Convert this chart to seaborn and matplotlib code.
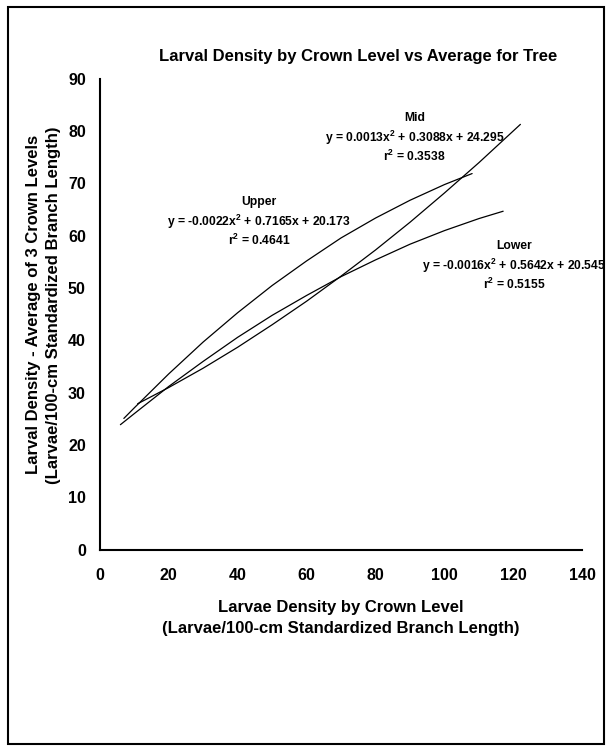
import pandas as pd
import numpy as np
import matplotlib
matplotlib.use("Agg")
import matplotlib.pyplot as plt
import seaborn as sns
from matplotlib.patches import Rectangle

# values
upper_x = [7, 10, 20, 30, 40, 50, 60, 70, 80, 90, 100, 108]
upper_y = [25.1, 27.1, 33.6, 39.7, 45.3, 50.5, 55.2, 59.6, 63.4, 66.8, 69.8, 71.9]

mid_x = [11, 20, 30, 40, 50, 60, 70, 80, 90, 100, 110, 122]
mid_y = [27.9, 31.0, 34.7, 38.7, 43.0, 47.5, 52.3, 57.3, 62.6, 68.2, 74.0, 81.3]

lower_x = [6, 10, 20, 30, 40, 50, 60, 70, 80, 90, 100, 110, 117]
lower_y = [23.9, 26.0, 31.2, 36.0, 40.6, 44.8, 48.6, 52.2, 55.4, 58.4, 61.0, 63.3, 64.7]

levels = ["Upper", "Mid", "Lower"]
equations = [
    "y = -0.0022x$^2$ + 0.7165x + 20.173",
    "y = 0.0013x$^2$ + 0.3088x + 24.295",
    "y = -0.0016x$^2$ + 0.5642x + 20.545",
]
r_squared = ["0.4641", "0.3538", "0.5155"]
x_ticks = [0, 20, 40, 60, 80, 100, 120, 140]
y_ticks = [0, 10, 20, 30, 40, 50, 60, 70, 80, 90]


def build_frame():
    parts = []
    for name, xs, ys in [("Upper", upper_x, upper_y),
                         ("Mid", mid_x, mid_y),
                         ("Lower", lower_x, lower_y)]:
        parts.append(pd.DataFrame({"x": xs, "y": ys, "level": name}))
    return pd.concat(parts, ignore_index=True)


def main():
    sns.set_style("white")
    plt.rcParams["font.family"] = ["Liberation Sans", "DejaVu Sans"]
    plt.rcParams["font.weight"] = "bold"
    plt.rcParams["mathtext.fontset"] = "custom"
    plt.rcParams["mathtext.rm"] = "Liberation Sans:bold"
    # seaborn's style greys the text; the reference is plain black
    for key in ["text.color", "axes.labelcolor", "xtick.color", "ytick.color"]:
        plt.rcParams[key] = "black"

    df = build_frame()

    fig = plt.figure(figsize=(6.08, 7.51), dpi=100)
    ax = fig.add_axes([0.164, 0.268, 0.794, 0.627])

    sns.lineplot(data=df, x="x", y="y", hue="level", units="level",
                 estimator=None, sort=False, legend=False, ax=ax,
                 palette={k: "black" for k in levels}, linewidth=0.9)

    ax.set_xlim(0, 140)
    ax.set_ylim(0, 90)
    ax.set_xticks(x_ticks)
    ax.set_yticks(y_ticks)
    ax.tick_params(axis="both", direction="out", length=4, width=1.2,
                   labelsize=11.5, color="black", labelcolor="black")
    ax.tick_params(axis="x", pad=9.5)
    ax.tick_params(axis="y", pad=6)
    for lab in ax.get_xticklabels() + ax.get_yticklabels():
        lab.set_fontweight("bold")
    for side in ["top", "right"]:
        ax.spines[side].set_visible(False)
    for side in ["left", "bottom"]:
        ax.spines[side].set_color("black")
        ax.spines[side].set_linewidth(1.5)

    ax.set_title("Larval Density by Crown Level vs Average for Tree",
                 fontsize=12, fontweight="bold", pad=12.5, x=0.536, color="black")
    ax.set_xlabel("Larvae Density by Crown Level\n(Larvae/100-cm Standardized Branch Length)",
                  fontsize=12, fontweight="bold", labelpad=12, linespacing=1.45, color="black")
    ax.set_ylabel("Larval Density - Average of 3 Crown Levels\n(Larvae/100-cm Standardized Branch Length)",
                  fontsize=12, fontweight="bold", labelpad=5, linespacing=1.45, y=0.52,
                  color="black")

    # trend line labels
    label_pos = {"Upper": (46.2, 66.5), "Mid": (91.3, 82.5), "Lower": (120.1, 58.1)}
    for name, eq, r2 in zip(levels, equations, r_squared):
        lx, ly = label_pos[name]
        ax.text(lx, ly, name, ha="center", va="center", fontsize=8.75,
                fontweight="bold", color="black")
        ax.text(lx, ly - 3.8, eq, ha="center", va="center", fontsize=8.75,
                fontweight="bold", color="black")
        ax.text(lx, ly - 7.4, "r$^2$ = " + r2, ha="center", va="center",
                fontsize=8.75, fontweight="bold", color="black")

    fig.patches.append(Rectangle((8 / 608, 7 / 751), 596 / 608, 737 / 751,
                                 transform=fig.transFigure, fill=False,
                                 edgecolor="black", linewidth=1.5))

    fig.savefig("out.png", dpi=100)


if __name__ == "__main__":
    main()
